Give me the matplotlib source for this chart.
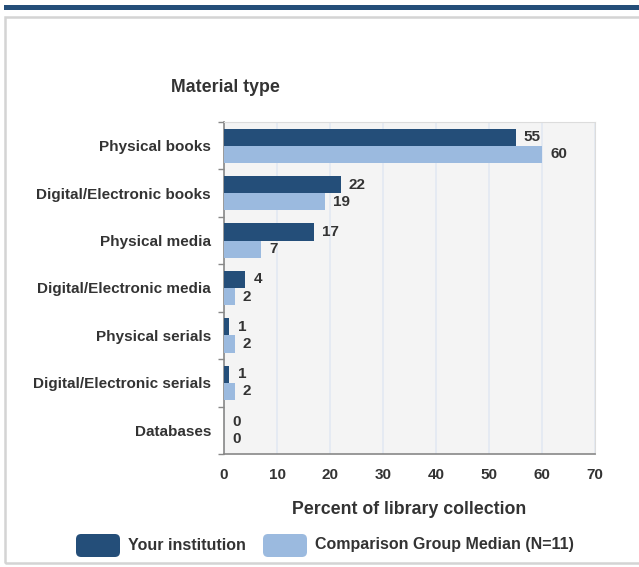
import matplotlib
matplotlib.use("Agg")
import matplotlib.pyplot as plt
from matplotlib.patches import FancyBboxPatch, Rectangle
import numpy as np

categories = ["Physical books", "Digital/Electronic books", "Physical media",
              "Digital/Electronic media", "Physical serials",
              "Digital/Electronic serials", "Databases"]
your_inst = [55, 22, 17, 4, 1, 1, 0]
comparison = [60, 19, 7, 2, 2, 2, 0]
series_names = ["Your institution", "Comparison Group Median (N=11)"]
xticks = [0, 10, 20, 30, 40, 50, 60, 70]

DARK = "#244e79"
LIGHT = "#9bbadf"
TXT = "#333333"
plt.rcParams['font.family'] = ['Liberation Sans', 'DejaVu Sans']

W, H = 639, 567
fig = plt.figure(figsize=(W/100, H/100), dpi=100)

# top band and border
fig.patches.append(Rectangle((4/W, 1-10/H), 1, 5/H, transform=fig.transFigure,
                             facecolor=DARK, edgecolor='none'))
fig.patches.append(Rectangle((5/W, 1-563/H), 1, (563-17)/H, transform=fig.transFigure,
                             facecolor='none', edgecolor='#d4d4d4', linewidth=1.8))

ax = fig.add_axes([224/W, 1-454/H, (595-224)/W, (454-122)/H])
ax.set_facecolor("#f4f4f4")
n = len(categories)
y = np.arange(n)
bh = 0.36
ax.barh(y - bh/2, your_inst, height=bh, color=DARK, zorder=3)
ax.barh(y + bh/2, comparison, height=bh, color=LIGHT, zorder=3)
for i in range(n):
    ax.annotate(str(your_inst[i]), (your_inst[i], y[i]-bh/2), xytext=(6, 0),
                textcoords='offset points', va='center', ha='left',
                fontsize=11, fontweight='bold', color=TXT)
    ax.annotate(str(comparison[i]), (comparison[i], y[i]+bh/2), xytext=(6, 0),
                textcoords='offset points', va='center', ha='left',
                fontsize=11, fontweight='bold', color=TXT)
ax.set_ylim(n-0.5, -0.5)
ax.set_xlim(0, 70)
ax.set_xticks(xticks)
ax.set_xticklabels([str(t) for t in xticks], fontsize=11, fontweight='bold', color=TXT)
ax.tick_params(axis='x', length=0, pad=10)
ax.set_yticks(y)
ax.set_yticklabels(categories, fontsize=11, fontweight='bold', color=TXT)
ax.set_yticks(np.arange(n+1)-0.5, minor=True)
ax.tick_params(axis='y', which='major', length=0, pad=9.4)
ax.tick_params(axis='y', which='minor', length=4.5, color='#888888', width=1)
ax.grid(axis='x', color='#e2e8f2', linewidth=1.2, zorder=0)
for s in ['top', 'right']:
    ax.spines[s].set_color('#dcdcdc')
ax.spines['left'].set_color('#888888')
ax.spines['bottom'].set_color('#888888')
ax.spines['left'].set_linewidth(1.2)
ax.spines['bottom'].set_linewidth(1.2)
ax.set_xlabel("Percent of library collection", fontsize=12.8, fontweight='bold',
              color=TXT, labelpad=14)
fig.text(225/W, 1-88/H, "Material type", fontsize=12.8, fontweight='bold', color=TXT,
         ha='center', va='center')

# legend
for (x0, color, name) in [(76, DARK, series_names[0]), (263, LIGHT, series_names[1])]:
    fig.patches.append(FancyBboxPatch((x0/W, 1-557/H), 44/W, 23/H,
                                      boxstyle="round,pad=0,rounding_size=0.008",
                                      transform=fig.transFigure, facecolor=color,
                                      edgecolor='none', mutation_aspect=W/H))
    fig.text((x0+52)/W, 1-545/H, name, fontsize=11.5, fontweight='bold', color=TXT,
             ha='left', va='center')

fig.savefig("out.png", dpi=100)
